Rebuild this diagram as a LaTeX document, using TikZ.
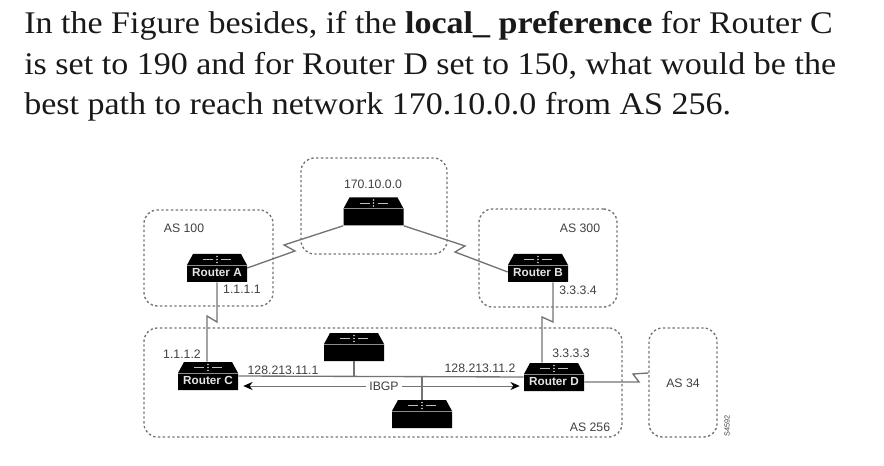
\documentclass[tikz,border=0pt]{standalone}
\usepackage{fontspec}
\setmainfont{Liberation Serif}
\setsansfont{Liberation Sans}
\usetikzlibrary{arrows.meta,positioning}

\tikzset{
 headline/.style={anchor=base west,inner sep=0pt,font=\rmfamily\fontsize{23.63}{28}\selectfont,text=black!90,xscale=1.08,transform shape},
 tag/.style={inner sep=0pt,font=\sffamily\fontsize{9.2}{11}\selectfont,text=black!75},
 asbox/.style={draw=black!55,line width=1pt,dash pattern=on 1.8pt off 1.8pt,rounded corners=10pt,inner sep=0pt},
 link/.style={draw=black!55,line width=1pt},
 routerbox/.style={minimum width=45pt,minimum height=21pt,inner sep=0pt,text=white!90!black,
  font=\sffamily\bfseries\fontsize{8.8}{10}\selectfont,text height=13pt,text depth=0pt}
}

% router body first, then its name on top
\newcommand{\router}[3]{
 \begin{scope}[shift={(#2)}]
  \fill[black] (-30,14) -- (-30,-3) -- (-24,-14) -- (24,-14) -- (30,-3) -- (30,14) -- cycle;
  \draw[black!45,line width=.4pt] (-30,-3) -- (30,-3);
  \draw[white!75!black,line width=.4pt] (-14,-8.5) -- (-4,-8.5) (4,-8.5) -- (14,-8.5);
  \fill[white!85!black] (0,-11.5) circle (.9) (0,-8.5) circle (.9) (0,-5.5) circle (.9);
 \end{scope}
 \node[routerbox] (#1) at (#2) {#3};
}

\begin{document}
\begin{tikzpicture}[x=.75pt,y=-.75pt]
 \useasboundingbox (0,0) rectangle (884,466);

 % question text
 \node[headline] (line1) at (24,33.5) {In the Figure besides, if the \textbf{local\_ preference} for Router C};
 \node[headline] (line2) at (24,75) {is set to 190 and for Router D set to 150, what would be the};
 \node[headline] (line3) at (24,115) {best path to reach network 170.10.0.0 from AS 256.};

 % dotted clouds
 \node[asbox,minimum width=96.75pt,minimum height=72pt] (as100) at (208.5,258) {};
 \node[asbox,minimum width=109.5pt,minimum height=72pt] (net) at (374,206) {};
 \node[asbox,minimum width=103.5pt,minimum height=73.5pt] (as300) at (548,258) {};
 \node[asbox,minimum width=358.5pt,minimum height=81.75pt] (as256) at (383,382.5) {};
 \node[asbox,minimum width=51pt,minimum height=81.75pt] (as34) at (683,382.5) {};

 % routers
 \router{hub}{373.5,211.5}{}
 \router{ra}{217,268}{Router A}
 \router{rb}{538,268}{Router B}
 \router{rc}{208,376}{Router C}
 \router{rd}{554,377}{Router D}
 \router{top}{354,347}{}
 \router{bot}{422,414}{}

 % labels
 \node[tag] (net_l) at (373,184) {170.10.0.0};
 \node[tag] (as100_l) at (184,228) {AS 100};
 \node[tag] (ip_a) at (242,289) {1.1.1.1};
 \node[tag] (as300_l) at (580,228) {AS 300};
 \node[tag] (ip_b) at (578,290) {3.3.3.4};
 \node[tag] (ip_c) at (182,354) {1.1.1.2};
 \node[tag] (ip_c2) at (283,370) {128.213.11.1};
 \node[tag] (ibgp) at (384,386) {IBGP};
 \node[tag] (ip_d2) at (480,368) {128.213.11.2};
 \node[tag] (ip_d) at (571,353) {3.3.3.3};
 \node[tag] (as34_l) at (683,383) {AS 34};
 \node[tag] (as256_l) at (590,427) {AS 256};
 \node[tag,rotate=90,font=\sffamily\fontsize{5.5}{6}\selectfont] (fig_id) at (727,426) {S4592};

 % serial links
 \draw[link] (ra.east) -- (295,251) -- (284,245) -- (hub.south west);
 \draw[link] (hub.south east) -- (465,246) -- (455,252) -- ([yshift=-3pt]rb.west);
 \draw[link] (ra.south) -- (217,322) -- (207,316) -- ([xshift=-.75pt]rc.north);
 \draw[link] ([xshift=11.25pt]rb.south) -- (553,322) -- (542,317) -- ([xshift=-9pt]rd.north);
 \draw[link] ([yshift=-3.75pt]rd.east) -- (639,382) -- (633,374) -- (as34.west |- 0,373);

 % ethernet segment
 \draw[link] (rc.east) -- (rd.west);
 \draw[link] (top.south) -- (top.south |- rc.east);
 \draw[link] (bot.north) -- (bot.north |- rc.east);

 % ibgp session
 \draw[link,-{Stealth[length=7pt,width=6pt,black]},shorten >=3.75pt,line width=.7pt] (ibgp.west) ++(-3,0) -- (rc.east |- ibgp);
 \draw[link,-{Stealth[length=7pt,width=6pt,black]},shorten >=3pt,line width=.7pt] (ibgp.east) ++(3,0) -- (rd.west |- ibgp);
\end{tikzpicture}
\end{document}
